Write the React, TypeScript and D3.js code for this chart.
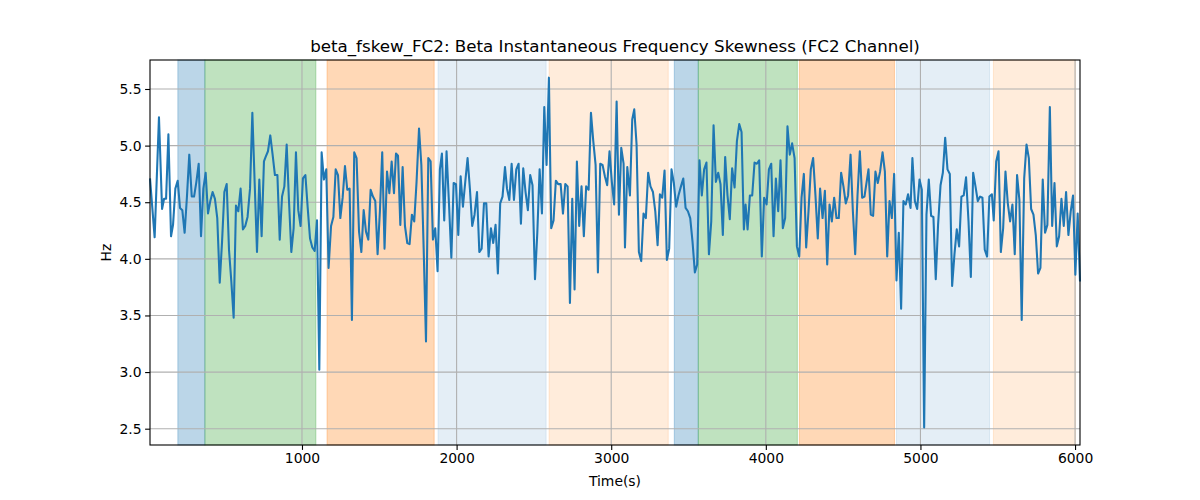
import React, { useRef, useEffect } from 'react';
import * as d3 from 'd3';

const TITLE = 'beta_fskew_FC2: Beta Instantaneous Frequency Skewness (FC2 Channel)';

// time stamps (s) and values (Hz)
const times: number[] = [
  17, 47, 75, 95, 108, 121, 136, 153, 166, 181, 196, 211, 226, 241, 256, 271, 287, 302, 317, 332, 347, 362, 377, 392,
  407, 422, 437, 452, 468, 483, 498, 513, 528, 543, 558, 573, 588, 603, 618, 633, 648, 664, 679, 694, 709, 724, 739, 754,
  765, 780, 795, 810, 825, 841, 856, 871, 886, 901, 916, 931, 946, 961, 976, 991, 1006, 1022, 1037, 1052, 1067, 1082,
  1097, 1112, 1127, 1142, 1157, 1172, 1188, 1203, 1218, 1233, 1248, 1263, 1278, 1293, 1308, 1323, 1338, 1353, 1369,
  1384, 1399, 1414, 1429, 1444, 1459, 1474, 1489, 1504, 1519, 1534,
  1550, 1565, 1580, 1595, 1608, 1621, 1636, 1651, 1666, 1681, 1696, 1711, 1726, 1741, 1757, 1772, 1787, 1802, 1817,
  1832, 1847, 1862, 1877, 1892, 1905, 1920, 1935, 1951, 1966, 1981, 1996, 2011, 2026, 2041, 2056, 2071, 2086, 2101,
  2116, 2132, 2147, 2162, 2177, 2192, 2207, 2222, 2237, 2252, 2267, 2282, 2297, 2313,
  2326, 2341, 2356, 2371, 2386, 2401, 2416, 2431, 2446, 2461, 2476, 2491, 2507, 2522, 2537, 2552, 2567, 2582, 2597,
  2612, 2627, 2642, 2657, 2673, 2688, 2703, 2718, 2733, 2748, 2763, 2778, 2793, 2808, 2823, 2838, 2854, 2869, 2884,
  2899, 2914, 2929, 2944, 2959, 2974, 2989, 3004, 3019, 3035, 3050, 3065, 3080,
  3089, 3104, 3121, 3136, 3149, 3164, 3179, 3194, 3209, 3224, 3239, 3254, 3270, 3285, 3300, 3315, 3330, 3345, 3360,
  3375, 3390, 3405, 3420, 3435, 3451, 3466, 3481, 3496, 3511, 3526, 3541, 3556, 3571, 3586, 3601, 3616, 3632, 3647,
  3662, 3677, 3692, 3707, 3722, 3737, 3752, 3767, 3782, 3798, 3813, 3828, 3843, 3858,
  3869, 3882, 3897, 3912, 3927, 3942, 3957, 3974, 3989, 4005, 4020, 4035, 4050, 4065, 4080, 4095, 4110, 4125, 4140,
  4155, 4170, 4186, 4201, 4216, 4231, 4246, 4261, 4276, 4291, 4306, 4321, 4336, 4351, 4367, 4382, 4397, 4412, 4427,
  4442, 4457, 4472, 4487, 4502, 4517, 4532, 4548, 4563, 4578, 4593, 4608, 4623, 4638,
  4664, 4679, 4694, 4709, 4724, 4739, 4755, 4770, 4785, 4800, 4815, 4830, 4845, 4860, 4875, 4890, 4905, 4920, 4936,
  4948, 4964, 4979, 4994, 5009, 5024, 5039, 5054, 5069, 5084, 5099, 5114, 5130, 5145, 5160, 5175, 5190, 5205, 5220,
  5235, 5250, 5265, 5280, 5295, 5311, 5326, 5341, 5356, 5371, 5386, 5401, 5416,
  5431, 5446, 5462, 5474, 5490, 5505, 5520, 5535, 5550, 5565, 5580, 5595, 5610, 5625, 5640, 5655, 5671, 5686, 5701,
  5716, 5731, 5746, 5761, 5776, 5791, 5806, 5821, 5837, 5852, 5867, 5882, 5897, 5912, 5927, 5942, 5957, 5972, 5987,
  6002, 6017, 6032,
];

const values: number[] = [
  4.71, 4.19, 5.25, 4.44, 4.53, 4.53, 5.1, 4.2, 4.3, 4.62, 4.69, 4.45, 4.43, 4.23, 4.55, 4.92, 4.55, 4.55, 4.68, 4.84,
  4.2, 4.62, 4.76, 4.4, 4.51, 4.59, 4.53, 4.36, 3.79, 4.15, 4.59, 4.66, 4.08, 3.8, 3.48, 4.47, 4.42, 4.62, 4.26, 4.29,
  4.37, 4.62, 5.29, 4.67, 4.06, 4.7, 4.2, 4.86,
  4.9, 4.95, 5.09, 4.92, 4.74, 4.74, 4.17, 4.55, 4.64, 5.01, 4.51, 4.06, 4.27, 4.94, 4.43, 4.29, 4.71, 4.74, 4.45,
  4.18, 4.1, 4.07, 4.34, 3.02, 4.94, 4.7, 4.79, 3.92, 4.29, 4.37, 4.79, 4.74, 4.36, 4.54, 4.82, 4.61, 4.62, 3.46,
  4.94, 4.89, 4.24, 4.06, 4.43, 4.24, 4.17, 4.61, 4.55, 4.51, 4.04, 4.42, 4.94, 4.09,
  4.77, 4.58, 4.86, 4.58, 4.93, 4.91, 4.3, 4.81, 4.29, 4.14, 4.13, 4.39, 4.33, 4.68, 5.15, 4.83, 4.09, 3.27, 4.89,
  4.86, 4.17, 4.27, 3.89, 4.79, 4.93, 4.34, 4.95, 4.48, 4.01, 4.67, 4.66, 4.21, 4.73, 4.46, 4.68, 4.89, 4.62, 4.29,
  4.39, 4.59, 4.06, 4.09, 4.49, 4.49, 4.02, 4.27, 4.14, 4.3, 3.87, 4.49, 4.55, 4.81,
  4.62, 4.52, 4.84, 4.52, 4.79, 4.84, 4.31, 4.8, 4.59, 4.43, 4.74, 4.65, 3.82, 4.23, 4.79, 4.4, 5.34, 4.83, 5.6,
  4.27, 4.34, 4.69, 4.66, 4.66, 4.4, 4.66, 4.64, 3.61, 4.53, 3.73, 4.86, 4.29, 4.64, 4.2, 4.64, 4.61, 5.29, 5.04,
  4.83, 3.88, 4.84, 4.83, 4.73, 4.65, 4.95, 4.68, 4.48, 5.39, 4.39, 4.98, 4.84,
  4.1, 4.81, 4.56, 5.23, 5.32, 5.01, 4.06, 3.98, 4.4, 4.36, 4.76, 4.64, 4.59, 4.42, 4.12, 4.57, 4.54, 4.78, 3.99,
  4.09, 4.79, 4.67, 4.46, 4.56, 4.64, 4.71, 4.45, 4.42, 4.36, 4.15, 3.88, 3.95, 4.87, 4.56, 4.79, 4.85, 4.04, 4.33,
  5.18, 4.68, 4.76, 4.66, 4.21, 4.9, 4.56, 4.35, 4.8, 4.63, 5.04, 5.19, 5.12, 4.26,
  4.48, 4.26, 4.56, 4.56, 4.85, 4.84, 4.87, 4.02, 4.54, 4.48, 4.79, 4.84, 4.2, 4.71, 4.42, 4.87, 4.27, 4.36, 5.17,
  4.92, 5.02, 4.89, 4.11, 4.02, 4.54, 4.75, 4.1, 4.42, 4.79, 4.89, 4.56, 4.18, 4.62, 4.36, 4.6, 3.95, 4.48, 4.33,
  4.54, 4.36, 4.36, 4.76, 4.64, 4.49, 4.56, 4.92, 4.42, 4.04, 4.56, 4.95, 4.54, 4.55,
  4.79, 4.39, 4.38, 4.77, 4.67, 4.77, 4.94, 4.77, 4.02, 4.51, 4.36, 4.75, 3.81, 4.23, 3.56, 4.51, 4.48, 4.57, 4.45,
  4.89, 4.51, 4.44, 4.7, 4.61, 2.51, 4.39, 4.7, 4.38, 4.37, 3.82, 4.3, 4.65, 4.76, 5.07, 4.79, 4.75, 3.76, 4.04,
  4.26, 4.11, 4.55, 4.56, 4.72, 4.33, 3.84, 4.76, 4.64, 4.51, 4.55, 4.54, 4.08,
  4.02, 4.55, 4.57, 4.34, 4.86, 4.95, 4.06, 4.27, 4.77, 4.49, 4.33, 4.48, 4.04, 4.74, 4.52, 3.46, 4.71, 5.01, 4.89,
  4.44, 4.39, 4.21, 3.87, 3.92, 4.7, 4.23, 4.3, 5.34, 4.29, 4.67, 4.11, 4.2, 4.53, 4.29, 4.59, 4.21, 4.42, 4.56,
  3.86, 4.4, 3.8,
];

// shaded segments: start, end, colour, opacity
const bandStarts = [197, 372, 1162, 1880, 2598, 3408, 3563, 4217, 4845, 5472];
const bandEnds = [372, 1090, 1855, 2579, 3369, 3563, 4204, 4832, 5447, 6003];
const bandColors = ['#1f77b4', '#2ca02c', '#ff7f0e', '#1f77b4', '#ff7f0e', '#1f77b4', '#2ca02c', '#ff7f0e', '#1f77b4', '#ff7f0e'];
const bandAlphas = [0.3, 0.3, 0.3, 0.12, 0.15, 0.3, 0.3, 0.3, 0.12, 0.15];

const xTicks = [1000, 2000, 3000, 4000, 5000, 6000];
const yTicks = [2.5, 3.0, 3.5, 4.0, 4.5, 5.0, 5.5];

const W = 1200;
const H = 500;
const margin = { top: 60, right: 120, bottom: 55, left: 150 };
const FONT = 'DejaVu Sans, sans-serif';

const App: React.FC = () => {
  const svgRef = useRef<SVGSVGElement>(null);

  useEffect(() => {
    document.body.style.margin = '0';
    const svg = d3.select(svgRef.current);
    svg.selectAll('*').remove();

    const innerW = W - margin.left - margin.right;
    const innerH = H - margin.top - margin.bottom;

    const x = d3.scaleLinear().domain([17, 6032]).range([0, innerW]);
    const y = d3.scaleLinear().domain([2.356, 5.756]).range([innerH, 0]);

    svg.append('rect').attr('width', W).attr('height', H).attr('fill', '#ffffff');

    const g = svg.append('g').attr('transform', `translate(${margin.left},${margin.top})`);

    // Bands
    bandStarts.forEach((s, i) => {
      g.append('rect')
        .attr('x', x(s))
        .attr('y', 0)
        .attr('width', x(bandEnds[i]) - x(s))
        .attr('height', innerH)
        .attr('fill', bandColors[i])
        .attr('fill-opacity', bandAlphas[i])
        .attr('stroke', bandColors[i])
        .attr('stroke-opacity', bandAlphas[i])
        .attr('stroke-width', 1);
    });

    // Grid
    g.selectAll('.gx')
      .data(xTicks)
      .enter()
      .append('line')
      .attr('x1', d => x(d))
      .attr('x2', d => x(d))
      .attr('y1', 0)
      .attr('y2', innerH)
      .attr('stroke', '#b0b0b0')
      .attr('stroke-width', 1.1);
    g.selectAll('.gy')
      .data(yTicks)
      .enter()
      .append('line')
      .attr('x1', 0)
      .attr('x2', innerW)
      .attr('y1', d => y(d))
      .attr('y2', d => y(d))
      .attr('stroke', '#b0b0b0')
      .attr('stroke-width', 1.1);

    // Line
    const pts: [number, number][] = times.map((t, i) => [t, values[i]]);
    const line = d3
      .line<[number, number]>()
      .x(d => x(d[0]))
      .y(d => y(d[1]));
    g.append('path')
      .datum(pts)
      .attr('d', line)
      .attr('fill', 'none')
      .attr('stroke', '#1f77b4')
      .attr('stroke-width', 2.08)
      .attr('stroke-linejoin', 'round');

    // Frame
    g.append('rect')
      .attr('width', innerW)
      .attr('height', innerH)
      .attr('fill', 'none')
      .attr('stroke', '#000')
      .attr('stroke-width', 1.1);

    // Axes
    const xAxis = g
      .append('g')
      .attr('transform', `translate(0,${innerH})`)
      .call(d3.axisBottom(x).tickValues(xTicks).tickSize(4.9).tickPadding(3.5).tickFormat(d3.format('d')));
    const yAxis = g
      .append('g')
      .call(d3.axisLeft(y).tickValues(yTicks).tickSize(4.9).tickPadding(3.5).tickFormat(d3.format('.1f')));
    [xAxis, yAxis].forEach(a => {
      a.select('.domain').remove();
      a.selectAll('line').attr('stroke', '#000').attr('stroke-width', 1.1);
      a.selectAll('text').attr('fill', '#000').style('font-family', FONT).style('font-size', '13.9px');
    });

    // Labels
    g.append('text')
      .attr('x', innerW / 2)
      .attr('y', innerH + 41)
      .attr('text-anchor', 'middle')
      .style('font-family', FONT)
      .style('font-size', '13.9px')
      .text('Time(s)');
    g.append('text')
      .attr('transform', 'rotate(-90)')
      .attr('x', -innerH / 2)
      .attr('y', -39)
      .attr('text-anchor', 'middle')
      .style('font-family', FONT)
      .style('font-size', '13.9px')
      .text('Hz');
    svg
      .append('text')
      .attr('x', margin.left + innerW / 2)
      .attr('y', margin.top - 8)
      .attr('text-anchor', 'middle')
      .style('font-family', FONT)
      .style('font-size', '16.7px')
      .text(TITLE);
  }, []);

  return <svg ref={svgRef} width={W} height={H} style={{ display: 'block' }} />;
};

export default App;
